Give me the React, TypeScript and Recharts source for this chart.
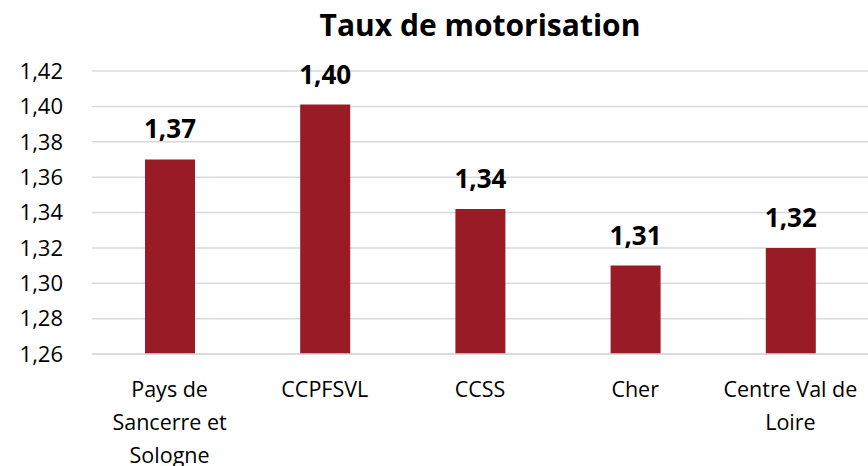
import { BarChart, Bar, XAxis, YAxis, CartesianGrid, LabelList } from 'recharts';

const categories = ['Pays de Sancerre et Sologne', 'CCPFSVL', 'CCSS', 'Cher', 'Centre Val de Loire'];
const tauxValues = [1.37, 1.401, 1.342, 1.31, 1.32];
const yTicks = [1.26, 1.28, 1.3, 1.32, 1.34, 1.36, 1.38, 1.4, 1.42];

const data = categories.map((name, i) => ({ name, taux: tauxValues[i] }));

const FONT = '"Open Sans", "Liberation Sans", sans-serif';
const BAR_COLOR = '#991b25';

const fmt = (v: number) => v.toFixed(2).replace('.', ',');

// simple word wrap, approx 13 chars per line
const wrap = (s: string, max = 13) => {
    const lines: string[] = [];
    let cur = '';
    s.split(' ').forEach((w) => {
        const next = cur ? cur + ' ' + w : w;
        if (next.length > max && cur) {
            lines.push(cur);
            cur = w;
        } else {
            cur = next;
        }
    });
    if (cur) lines.push(cur);
    return lines;
};

const CategoryTick = ({ x, y, payload }: { x?: number; y?: number; payload?: { value: string } }) => {
    const lines = wrap(payload?.value ?? '');
    return (
        <text x={x} y={y} textAnchor="middle" fill="#000" fontSize={21.5} fontFamily={FONT}>
            {lines.map((l, i) => (
                <tspan key={i} x={x} dy={i === 0 ? 43 : 33}>
                    {l}
                </tspan>
            ))}
        </text>
    );
};

export default function App() {
    return (
        <div style={{ position: 'absolute', left: 0, top: 0, width: 868, height: 466, background: '#fff' }}>
            <div
                style={{
                    position: 'absolute',
                    left: 92,
                    width: 776,
                    top: 10,
                    lineHeight: '30px',
                    textAlign: 'center',
                    fontFamily: FONT,
                    fontWeight: 700,
                    fontSize: 30,
                    color: '#000',
                }}
            >
                Taux de motorisation
            </div>
            <BarChart
                width={868}
                height={466}
                data={data}
                margin={{ top: 71, right: 0, left: 0, bottom: 0 }}
            >
                <CartesianGrid vertical={false} stroke="#d9d9d9" strokeWidth={1.5} />
                <XAxis
                    dataKey="name"
                    interval={0}
                    height={112}
                    tickLine={false}
                    tickSize={0}
                    tickMargin={0}
                    axisLine={{ stroke: '#d9d9d9', strokeWidth: 1.5 }}
                    tick={<CategoryTick />}
                />
                <YAxis
                    domain={[1.26, 1.42]}
                    ticks={yTicks}
                    width={92}
                    tickLine={false}
                    axisLine={false}
                    tickSize={0}
                    tickMargin={29}
                    tickFormatter={fmt}
                    tick={{ fill: '#000', fontSize: 22, fontFamily: FONT }}
                    allowDataOverflow
                />
                <Bar dataKey="taux" fill={BAR_COLOR} barSize={50} isAnimationActive={false}>
                    <LabelList
                        dataKey="taux"
                        position="top"
                        offset={21}
                        formatter={(v: any) => fmt(Number(v))}
                        style={{ fill: '#000', fontSize: 26, fontWeight: 700, fontFamily: FONT }}
                    />
                </Bar>
            </BarChart>
        </div>
    );
}
